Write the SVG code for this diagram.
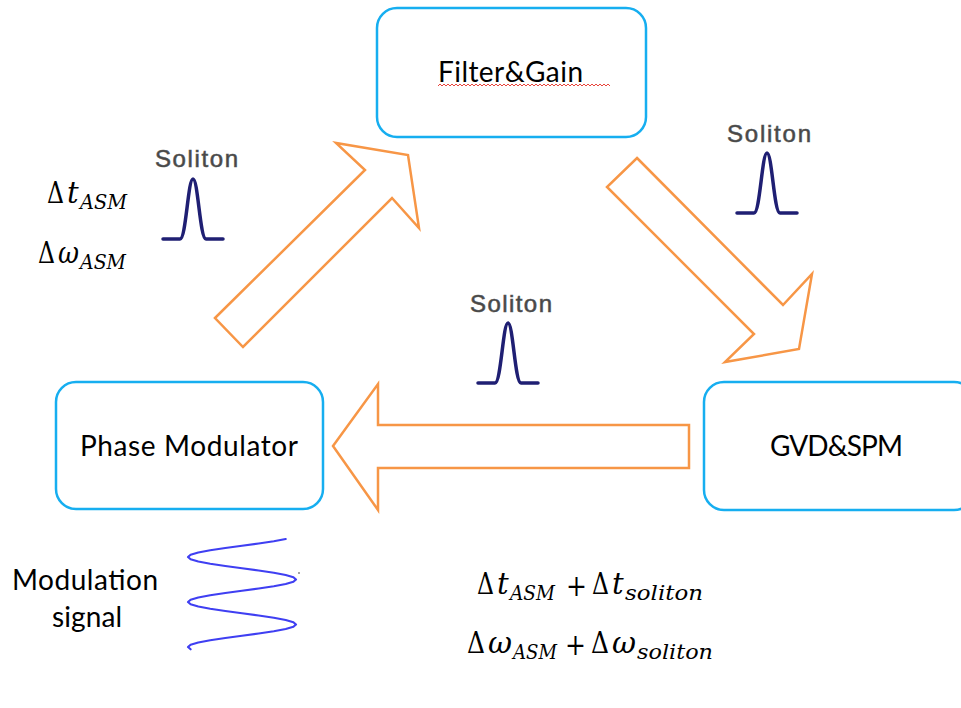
<svg xmlns="http://www.w3.org/2000/svg" width="961" height="708" viewBox="0 0 961 708">
  <style>
    .box { fill: #ffffff; stroke: #16aef0; stroke-width: 2.5; }
    .label { font-family: Lato, "Open Sans", sans-serif; font-size: 28px; fill: #000000; }
    .flow { fill: #ffffff; stroke: #f79646; stroke-width: 2.5; stroke-linejoin: miter; }
    .sol { font-family: "Liberation Sans", Arial, sans-serif; font-size: 24px; fill: #474747; stroke: #555555; stroke-width: 0.6; }
    .pulse { fill: none; stroke: #1f1f73; stroke-width: 3.5; stroke-linecap: round; stroke-linejoin: round; }
    .m { font-family: "DejaVu Serif", "Liberation Serif", serif; font-size: 29px; fill: #000000; }
    .mi { font-family: "DejaVu Serif", "Liberation Serif", serif; font-size: 29px; font-style: italic; fill: #000000; }
    .sub { font-family: "DejaVu Serif", "Liberation Serif", serif; font-size: 21px; font-style: italic; fill: #000000; }
  </style>
  <defs>
    <path id="gauss" class="pulse" d="M-30,0 H-13 C-7,0 -5,-60 0,-60 C5,-60 7,0 13,0 H30"/>
  </defs>

  <rect width="961" height="708" fill="#ffffff"/>

  <!-- block arrows of the loop -->
  <g id="connectors">
    <polygon class="flow" points="215,318 365,170 336,143 408,155 419,228 392,198 243,347"/>
    <polygon class="flow" points="637,158 783,305 812,274 799,349 725,362 754,334 607,187"/>
    <polygon class="flow" points="333,446 378,384 378,425 689,425 689,468 378,468 378,510"/>
  </g>

  <g id="filter-gain">
    <rect class="box" x="377" y="8" width="269" height="129" rx="20"/>
    <text class="label" x="438" y="82" textLength="145">Filter&amp;Gain</text>
    <path d="M438,86 l2,-2 l2,2 l2,-2 l2,2 l2,-2 l2,2 l2,-2 l2,2 l2,-2 l2,2 l2,-2 l2,2 l2,-2 l2,2 l2,-2 l2,2 l2,-2 l2,2 l2,-2 l2,2 l2,-2 l2,2 l2,-2 l2,2 l2,-2 l2,2 l2,-2 l2,2 l2,-2 l2,2 l2,-2 l2,2 l2,-2 l2,2 l2,-2 l2,2 l2,-2 l2,2 l2,-2 l2,2 l2,-2 l2,2 l2,-2 l2,2 l2,-2 l2,2 l2,-2 l2,2 l2,-2 l2,2 l2,-2 l2,2 l2,-2 l2,2 l2,-2 l2,2 l2,-2 l2,2 l2,-2 l2,2 l2,-2 l2,2 l2,-2 l2,2 l2,-2 l2,2 l2,-2 l2,2 l2,-2 l2,2 l2,-2 l2,2 l2,-2 l2,2 l2,-2 l2,2 l2,-2 l2,2 l2,-2 l2,2 l2,-2 l2,2 l2,-2 l2,2 l2,-2 l2,2" fill="none" stroke="#e8453c" stroke-width="1"/>
  </g>

  <g id="phase-modulator">
    <rect class="box" x="56" y="382" width="267" height="127" rx="20"/>
    <text class="label" x="80" y="456" textLength="218">Phase Modulator</text>
  </g>

  <g id="gvd-spm">
    <rect class="box" x="704" y="382" width="270" height="128" rx="20"/>
    <text class="label" x="770" y="456" textLength="133">GVD&amp;SPM</text>
  </g>

  <!-- pulse sketches -->
  <g id="soliton-left">
    <text class="sol" x="155" y="167" textLength="83">Soliton</text>
    <use href="#gauss" x="193" y="239"/>
  </g>
  <g id="soliton-right">
    <text class="sol" x="727" y="142" textLength="84">Soliton</text>
    <use href="#gauss" x="767" y="213"/>
  </g>
  <g id="soliton-middle">
    <text class="sol" x="470" y="312" textLength="82">Soliton</text>
    <use href="#gauss" x="508" y="383"/>
  </g>

  <!-- shifts after the modulator -->
  <g id="asm-shift">
    <text class="m" x="47" y="203" textLength="17" lengthAdjust="spacingAndGlyphs">Δ</text>
    <text class="mi" x="67" y="203">t</text>
    <text class="sub" x="80" y="209" textLength="47" lengthAdjust="spacingAndGlyphs">ASM</text>
    <text class="m" x="38" y="263" textLength="17" lengthAdjust="spacingAndGlyphs">Δ</text>
    <text class="mi" x="58" y="263" textLength="21" lengthAdjust="spacingAndGlyphs">ω</text>
    <text class="sub" x="80" y="269" textLength="46" lengthAdjust="spacingAndGlyphs">ASM</text>
  </g>

  <!-- total shifts -->
  <g id="total-shift">
    <text class="m" x="477" y="594" textLength="17" lengthAdjust="spacingAndGlyphs">Δ</text>
    <text class="mi" x="497" y="594">t</text>
    <text class="sub" x="510" y="600" textLength="45" lengthAdjust="spacingAndGlyphs">ASM</text>
    <text class="m" x="566" y="596" textLength="21" lengthAdjust="spacingAndGlyphs">+</text>
    <text class="m" x="592" y="594" textLength="17" lengthAdjust="spacingAndGlyphs">Δ</text>
    <text class="mi" x="612" y="594">t</text>
    <text class="sub" x="625" y="600" textLength="78" lengthAdjust="spacingAndGlyphs">soliton</text>

    <text class="m" x="467" y="653" textLength="18" lengthAdjust="spacingAndGlyphs">Δ</text>
    <text class="mi" x="488" y="653" textLength="24" lengthAdjust="spacingAndGlyphs">ω</text>
    <text class="sub" x="513" y="659" textLength="44" lengthAdjust="spacingAndGlyphs">ASM</text>
    <text class="m" x="565" y="655" textLength="21" lengthAdjust="spacingAndGlyphs">+</text>
    <text class="m" x="591" y="653" textLength="18" lengthAdjust="spacingAndGlyphs">Δ</text>
    <text class="mi" x="612" y="653" textLength="24" lengthAdjust="spacingAndGlyphs">ω</text>
    <text class="sub" x="637" y="659" textLength="76" lengthAdjust="spacingAndGlyphs">soliton</text>
  </g>

  <!-- drive signal: vertical sine, x = 242 - 54 cos(2π(y-557)/45) -->
  <g id="modulation-signal">
    <text class="label" x="12" y="590" textLength="146">Modulation</text>
    <text class="label" x="52" y="627" textLength="70">signal</text>
    <polyline fill="none" stroke="#3f3ff2" stroke-width="2.2" stroke-linecap="round" stroke-linejoin="round"
      points="285.7,539 273.8,541.25 258.7,543.5 242,545.75 225.3,548 210.2,550.25 198.3,552.5 190.6,554.75 188,557 190.6,559.25 198.3,561.5 210.2,563.75 225.3,566 242,568.25 258.7,570.5 273.8,572.75 285.7,575 293.4,577.25 296,579.5 293.4,581.75 285.7,584 273.8,586.25 258.7,588.5 242,590.75 225.3,593 210.2,595.25 198.3,597.5 190.6,599.75 188,602 190.6,604.25 198.3,606.5 210.2,608.75 225.3,611 242,613.25 258.7,615.5 273.8,617.75 285.7,620 293.4,622.25 296,624.5 293.4,626.75 285.7,629 273.8,631.25 258.7,633.5 242,635.75 225.3,638 210.2,640.25 198.3,642.5 190.6,644.75 188,647 190.6,649.25"/>
    <circle cx="299" cy="573" r="1" fill="#888888"/>
  </g>
</svg>
